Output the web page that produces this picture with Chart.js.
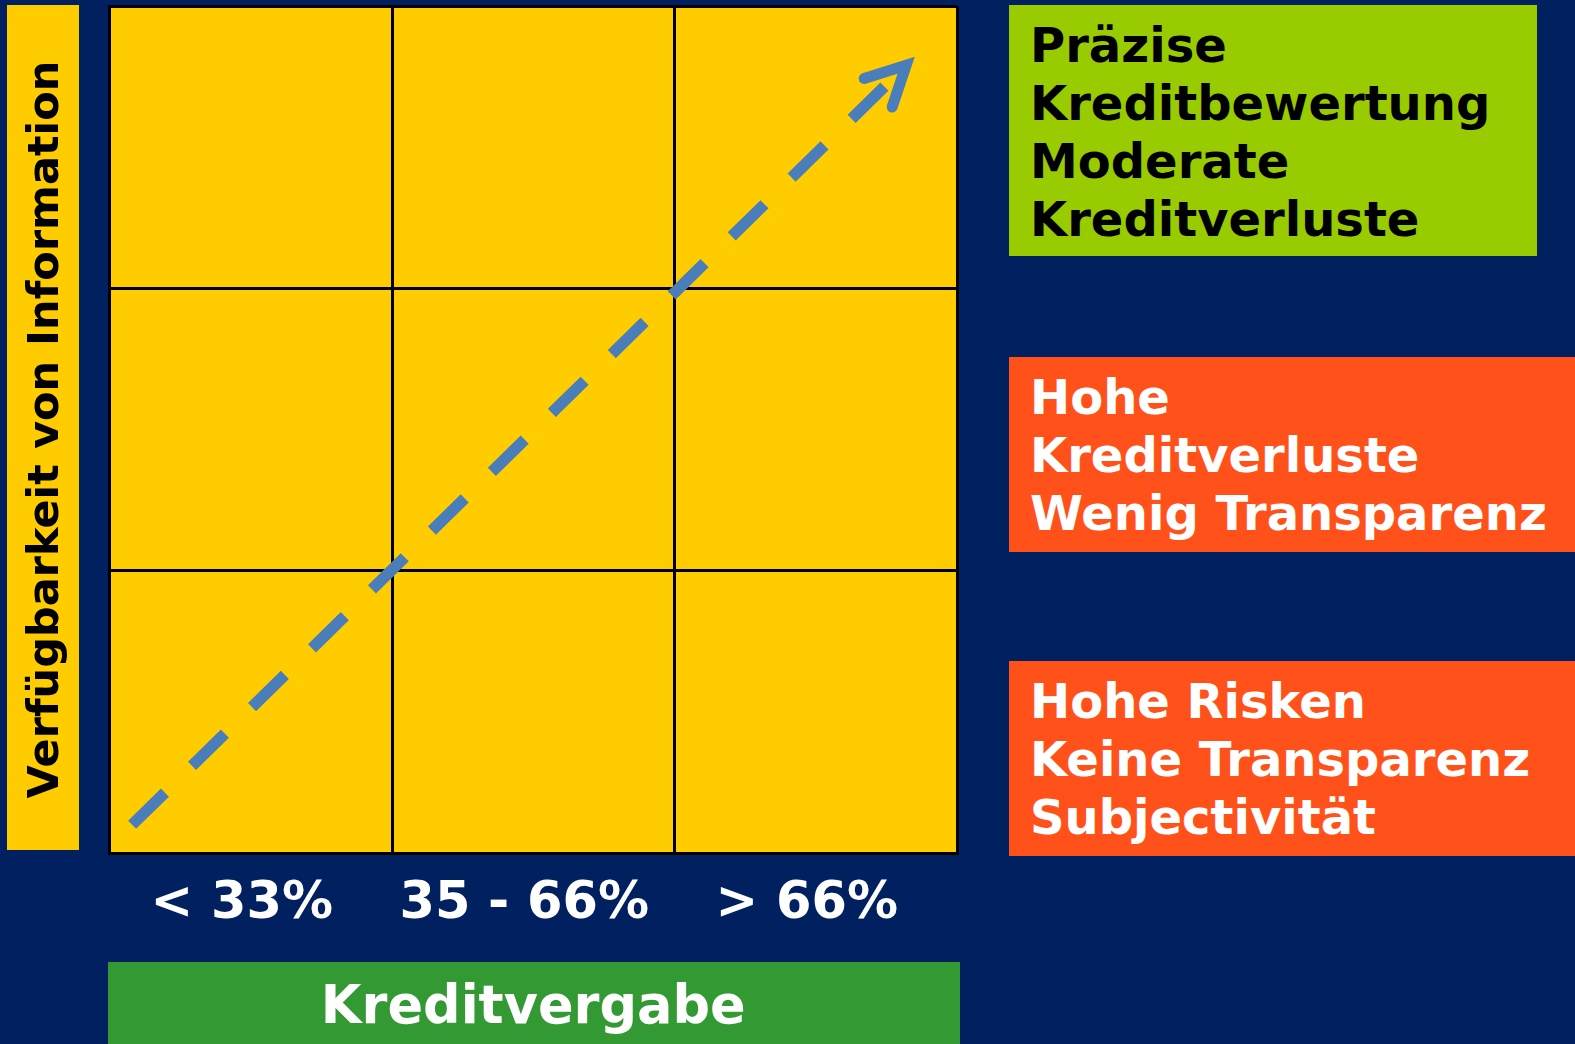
<!DOCTYPE html>
<html lang="de">
<head>
<meta charset="utf-8">
<title>Kreditvergabe / Verfügbarkeit von Information</title>
<script src="https://cdn.jsdelivr.net/npm/chart.js@4.4.1/dist/chart.umd.min.js"></script>
<style>
    html, body {
        margin: 0;
        padding: 0;
        background: #002060;
        overflow: hidden;
    }
    #wrap {
        position: relative;
        width: 1575px;
        height: 1044px;
    }
    .box {
        position: absolute;
        box-sizing: border-box;
        padding: 11px 0 0 21px;
        font-family: 'DejaVu Sans', Verdana, sans-serif;
        font-weight: bold;
        font-size: 48px;
        line-height: 58px;
        white-space: nowrap;
    }
</style>
</head>
<body>
<div id="wrap">
    <canvas id="matrixChart"></canvas>
    <div class="box" id="boxTop" style="left:1009px; top:5px; width:528px; height:251px; background:#99CC00; color:#000;"></div>
    <div class="box" id="boxMid" style="left:1009px; top:357px; width:566px; height:195px; background:#FF5119; color:#fff;"></div>
    <div class="box" id="boxLow" style="left:1009px; top:661px; width:566px; height:195px; background:#FF5119; color:#fff;"></div>
</div>
<script>
// Matrix: Kreditvergabe vs. Verfügbarkeit von Information

// Axis categories and titles
const xLabels = ['< 33%', '35 - 66%', '> 66%'];
const xTitle = 'Kreditvergabe';
const yTitle = 'Verfügbarkeit von Information';

// Dashed arrow (grid units, 0..3 on both axes)
const arrowX = [0.08, 2.82];
const arrowY = [0.10, 2.79];

// Text boxes on the right
const boxTopLines = ['Präzise', 'Kreditbewertung', 'Moderate', 'Kreditverluste'];
const boxMidLines = ['Hohe', 'Kreditverluste', 'Wenig Transparenz'];
const boxLowLines = ['Hohe Risken', 'Keine Transparenz', 'Subjectivität'];

const YELLOW = '#FFCC00';
const ARROW_BLUE = '#4A7EBB';

function fillBox(id, lines) {
    const el = document.getElementById(id);
    lines.forEach(line => {
        const div = document.createElement('div');
        div.textContent = line;
        el.appendChild(div);
    });
}
fillBox('boxTop', boxTopLines);
fillBox('boxMid', boxMidLines);
fillBox('boxLow', boxLowLines);

// Backgrounds: plot area, y title band, x title band
const backgroundPlugin = {
    id: 'backgrounds',
    beforeDraw(chart) {
        const { ctx, chartArea } = chart;
        const xScale = chart.scales.x;
        const yScale = chart.scales.y;
        ctx.save();
        ctx.fillStyle = YELLOW;
        ctx.fillRect(chartArea.left, chartArea.top, chartArea.right - chartArea.left, chartArea.bottom - chartArea.top);
        // y title band
        ctx.fillRect(yScale.left + 7, chartArea.top - 1, 72, chartArea.bottom - chartArea.top - 2);
        // x title band
        ctx.fillStyle = '#339933';
        ctx.fillRect(chartArea.left - 1.5, xScale.bottom - 82, chartArea.right - chartArea.left + 4.5, 82);
        ctx.restore();
    }
};

// Arrow head at the last point of the dashed line
const arrowHeadPlugin = {
    id: 'arrowHead',
    afterDatasetsDraw(chart) {
        const pts = chart.getDatasetMeta(0).data;
        if (pts.length < 2) return;
        const a = pts[pts.length - 2];
        const b = pts[pts.length - 1];
        const back = Math.atan2(a.y - b.y, a.x - b.x);
        const spread = 27 * Math.PI / 180;
        const len = 44;
        const { ctx } = chart;
        ctx.save();
        ctx.strokeStyle = ARROW_BLUE;
        ctx.lineWidth = 11;
        ctx.lineCap = 'round';
        ctx.lineJoin = 'miter';
        ctx.setLineDash([]);
        ctx.beginPath();
        ctx.moveTo(b.x + len * Math.cos(back + spread), b.y + len * Math.sin(back + spread));
        ctx.lineTo(b.x, b.y);
        ctx.lineTo(b.x + len * Math.cos(back - spread), b.y + len * Math.sin(back - spread));
        ctx.stroke();
        ctx.restore();
    }
};

Chart.defaults.font.family = "'DejaVu Sans', Verdana, sans-serif";

const ctx = document.getElementById('matrixChart').getContext('2d');
const matrixChart = new Chart(ctx, {
    type: 'scatter',
    data: {
        labels: xLabels,
        datasets: [{
            label: 'Trend',
            data: arrowX.map((x, i) => ({ x: x, y: arrowY[i] })),
            xAxisID: 'xv',
            yAxisID: 'y',
            showLine: true,
            borderColor: ARROW_BLUE,
            borderWidth: 11.5,
            borderDash: [46, 38],
            borderCapStyle: 'butt',
            pointRadius: 0,
            fill: false
        }]
    },
    options: {
        responsive: true,
        maintainAspectRatio: false,
        animation: false,
        layout: {
            padding: { left: 0, top: 6, right: 618, bottom: 0 }
        },
        plugins: {
            legend: { display: false },
            tooltip: { enabled: false }
        },
        scales: {
            x: {
                type: 'category',
                position: 'bottom',
                offset: true,
                grid: {
                    offset: true,
                    color: '#000000',
                    lineWidth: 3,
                    drawTicks: false
                },
                border: { color: '#000000', width: 3 },
                ticks: {
                    color: '#FFFFFF',
                    padding: 21,
                    labelOffset: -9,
                    font: { size: 51, weight: 'bold' }
                },
                title: {
                    display: true,
                    text: xTitle,
                    color: '#FFFFFF',
                    padding: { top: 0, bottom: 3 },
                    font: { size: 52.5, weight: 'bold' }
                },
                afterFit(scale) {
                    scale.height = 191;
                }
            },
            xv: {
                type: 'linear',
                display: false,
                min: 0,
                max: 3
            },
            y: {
                type: 'linear',
                position: 'left',
                min: 0,
                max: 3,
                grid: {
                    color: '#000000',
                    lineWidth: 3,
                    drawTicks: false
                },
                border: { color: '#000000', width: 3 },
                ticks: {
                    display: false,
                    stepSize: 1
                },
                title: {
                    display: true,
                    text: yTitle,
                    color: '#000000',
                    padding: { top: 21, bottom: 0 },
                    font: { size: 43, weight: 'bold' }
                },
                afterFit(scale) {
                    scale.width = 109.5;
                }
            }
        }
    },
    plugins: [backgroundPlugin, arrowHeadPlugin]
});
</script>
</body>
</html>
